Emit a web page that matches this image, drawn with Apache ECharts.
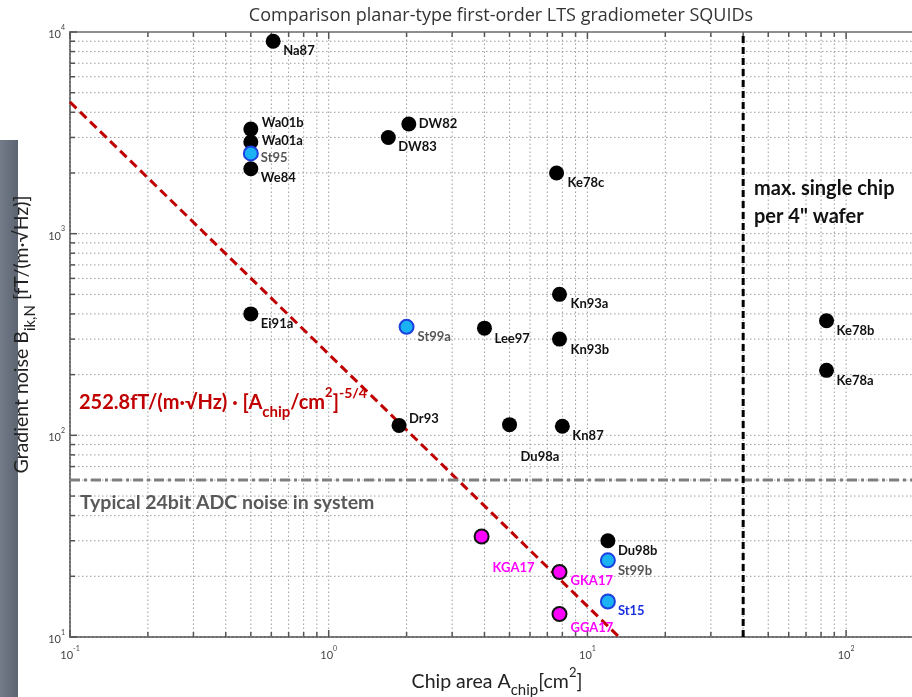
<!DOCTYPE html>
<html>
<head>
<meta charset="utf-8">
<title>LTS gradiometer SQUIDs</title>
<script src="https://cdn.jsdelivr.net/npm/echarts@6/dist/echarts.min.js"></script>
<style>
  html, body { margin: 0; background: #fff; }
  #main { width: 912px; height: 697px; }
</style>
</head>
<body>
<div id="main"></div>
<script>
// axis ranges (log scales)
var xMin = 0.1, xMax = 200;
var yMin = 10, yMax = 10000;
var xDecades = [0.1, 1, 10, 100];
var yDecades = [10, 100, 1000];
var minorSteps = [1, 2, 3, 4, 5, 6, 7, 8, 9];

// black points
var blackNames = ['Na87', 'Wa01b', 'Wa01a', 'We84', 'DW82', 'DW83', 'Ke78c', 'Ei91a', 'Dr93',
                  'Lee97', 'Kn93a', 'Kn93b', 'Du98a', 'Kn87', 'Ke78b', 'Ke78a', 'Du98b'];
var blackX = [0.61, 0.5, 0.5, 0.5, 2.04, 1.7, 7.6, 0.5, 1.87, 4.0, 7.8, 7.8, 5.0, 8.0, 84, 84, 12];
var blackY = [9000, 3300, 2850, 2100, 3500, 3000, 2000, 400, 112, 340, 500, 300, 113, 111, 370, 210, 30];

// light blue points
var blueNames = ['St95', 'St99a', 'St99b', 'St15'];
var blueX = [0.5, 2.0, 12, 12];
var blueY = [2500, 345, 24, 15];

// magenta points
var magNames = ['KGA17', 'GKA17', 'GGA17'];
var magX = [3.9, 7.8, 7.8];
var magY = [31.5, 21, 13];

// fit line  252.8 * A^-5/4  (end points)
var fitLine = [[0.1, 4495], [13.25, 10]];
var adcLevel = 60;      // typical 24bit ADC noise
var waferLimit = 40;    // max. single chip per 4" wafer

// label placement: [dx, dy] from point centre to text left edge / middle
var labelOffset = {
  Na87: [10, 10], Wa01b: [11, -6], Wa01a: [11, -1], St95: [10, 4], We84: [10, 9],
  DW82: [10, 0], DW83: [10, 9], Ke78c: [11, 10], Ei91a: [10, 10], St99a: [11, 10],
  Dr93: [10, -7], Lee97: [10, 11], Kn93a: [11, 9], Kn93b: [11, 11], Du98a: [11, 32],
  Kn87: [10, 10], Ke78b: [10, 10], Ke78a: [10, 10], Du98b: [10, 10], St99b: [10, 10],
  St15: [10, 9], KGA17: [11, 31], GKA17: [11, 9], GGA17: [11, 14]
};
var blueLabelColor = { St95: '#555', St99a: '#555', St99b: '#555', St15: '#1a2fe0' };

var xGrid = [], yGrid = [];
xDecades.forEach(function (d) {
  minorSteps.forEach(function (m) { if (d * m <= xMax) xGrid.push([d * m, yMin]); });
});
xGrid.push([xMax, yMin]);
yDecades.forEach(function (d) {
  minorSteps.forEach(function (m) { yGrid.push([xMin, d * m]); });
});
yGrid.push([xMin, yMax]);

function isDecade(v) {
  var l = Math.log(v) / Math.LN10;
  return Math.abs(l - Math.round(l)) < 1e-6;
}

function powLabel(v) {
  if (!isDecade(v)) return '';
  return '{b|10}{s|' + Math.round(Math.log(v) / Math.LN10) + '}';
}

var fontMain = 'Lato, "Open Sans", sans-serif';

function points(names, xs, ys, color) {
  return names.map(function (n, i) {
    var item = { name: n, value: [xs[i], ys[i]], label: { offset: labelOffset[n] } };
    if (color) item.label.color = color[n];
    return item;
  });
}

var pointLabel = {
  show: true, formatter: '{b}', position: 'inside', align: 'left', verticalAlign: 'middle',
  fontFamily: fontMain, fontWeight: 'bold', fontSize: 13, color: '#111'
};

var myChart = echarts.init(document.getElementById('main'), null, { renderer: 'canvas' });

var option = {
  backgroundColor: '#fff',
  animation: false,
  title: {
    text: 'Comparison planar-type first-order LTS gradiometer SQUIDs',
    left: 496, top: 2, textAlign: 'center',
    textStyle: { fontFamily: '"Open Sans", sans-serif', fontWeight: 'normal', fontSize: 18, color: '#333' }
  },
  grid: {
    left: 70, top: 32, width: 854, height: 605,
    outerBoundsMode: 'none', containLabel: false,
    show: true, borderColor: '#666', borderWidth: 1.5, backgroundColor: 'transparent'
  },
  xAxis: {
    type: 'log', logBase: 10, min: xMin, max: xMax, interval: 1,
    name: '{a|Chip area A}{sub|chip}{a|[cm}{sup|2}{a|]}',
    nameLocation: 'middle', nameGap: 26,
    nameTextStyle: {
      rich: {
        a: { fontFamily: fontMain, fontSize: 19.5, color: '#222', lineHeight: 32 },
        sub: { fontFamily: fontMain, fontSize: 15, color: '#222', verticalAlign: 'bottom', lineHeight: 14 },
        sup: { fontFamily: fontMain, fontSize: 13, color: '#222', verticalAlign: 'top', lineHeight: 12 }
      }
    },
    axisLine: { show: true, lineStyle: { color: '#666', width: 1.5 } },
    axisTick: { show: false },
    splitLine: { show: false },
    axisLabel: {
      formatter: powLabel, margin: 8,
      rich: {
        b: { fontFamily: fontMain, fontSize: 11, color: '#444', lineHeight: 16, verticalAlign: 'bottom' },
        s: { fontFamily: fontMain, fontSize: 7, color: '#444', lineHeight: 10, verticalAlign: 'top' }
      }
    }
  },
  yAxis: {
    type: 'log', logBase: 10, min: yMin, max: yMax, interval: 1,
    name: '{a|Gradient noise B}{sub|ik,N}{a| [fT/(m·√Hz)]}',
    nameLocation: 'middle', nameGap: 27, nameRotate: 90,
    nameTextStyle: {
      rich: {
        a: { fontFamily: fontMain, fontSize: 19.5, color: '#222', lineHeight: 32 },
        sub: { fontFamily: fontMain, fontSize: 15, color: '#222', verticalAlign: 'bottom', lineHeight: 14 }
      }
    },
    axisLine: { show: true, lineStyle: { color: '#666', width: 1.5 } },
    axisTick: { show: false },
    splitLine: { show: false },
    axisLabel: {
      formatter: powLabel, margin: 5,
      rich: {
        b: { fontFamily: fontMain, fontSize: 11, color: '#444', lineHeight: 16, verticalAlign: 'bottom' },
        s: { fontFamily: fontMain, fontSize: 7, color: '#444', lineHeight: 10, verticalAlign: 'top' }
      }
    }
  },
  graphic: [
    {
      type: 'rect', left: 0, top: 140, z: -10,
      shape: { width: 18, height: 557 },
      style: {
        fill: new echarts.graphic.LinearGradient(0, 0, 1, 0, [
          { offset: 0, color: '#747c89' }, { offset: 1, color: '#5d6471' }
        ])
      }
    },
    {
      type: 'text', left: 79, top: 386, z: 10,
      style: {
        text: '{m|252.8fT/(m·√Hz) · [A}{sub|chip}{m|/cm}{sup|2}{m|]}{sup2|-5/4}',
        rich: {
          m: { fontFamily: fontMain, fontSize: 20, fontWeight: 'bold', fill: '#c00000', lineHeight: 34 },
          sub: { fontFamily: fontMain, fontSize: 15, fontWeight: 'bold', fill: '#c00000', verticalAlign: 'bottom', lineHeight: 14 },
          sup: { fontFamily: fontMain, fontSize: 13, fontWeight: 'bold', fill: '#c00000', verticalAlign: 'top', lineHeight: 14 },
          sup2: { fontFamily: fontMain, fontSize: 14, fontWeight: 'bold', fill: '#c00000', verticalAlign: 'top', lineHeight: 12 }
        }
      }
    },
    {
      type: 'text', left: 80, top: 493, z: 10,
      style: { text: 'Typical 24bit ADC noise in system', fontFamily: fontMain, fontSize: 19.5, fontWeight: 'bold', fill: '#595959' }
    },
    {
      type: 'text', left: 754, top: 179, z: 10,
      style: { text: 'max. single chip', fontFamily: fontMain, fontSize: 20, fontWeight: 'bold', fill: '#111' }
    },
    {
      type: 'text', left: 754, top: 207, z: 10,
      style: { text: 'per 4" wafer', fontFamily: fontMain, fontSize: 20, fontWeight: 'bold', fill: '#111' }
    }
  ],
  series: [
    {
      // vertical grid lines + ticks
      type: 'custom', silent: true, z: 1,
      data: xGrid, encode: { x: 0, y: 1 },
      renderItem: function (params, api) {
        var v = api.value(0);
        var b = api.coord([v, yMin]), t = api.coord([v, yMax]);
        var len = isDecade(v) ? 7 : 5;
        return {
          type: 'group', children: [
            { type: 'line', shape: { x1: b[0], y1: b[1], x2: t[0], y2: t[1] }, style: { stroke: '#9c9c9c', lineWidth: 1, lineDash: [1.5, 2.5] } },
            { type: 'line', shape: { x1: b[0], y1: b[1], x2: b[0], y2: b[1] - len }, style: { stroke: '#555', lineWidth: 1.5 } },
            { type: 'line', shape: { x1: t[0], y1: t[1], x2: t[0], y2: t[1] + len }, style: { stroke: '#555', lineWidth: 1.5 } }
          ]
        };
      }
    },
    {
      // horizontal grid lines + ticks
      type: 'custom', silent: true, z: 1,
      data: yGrid, encode: { x: 0, y: 1 },
      renderItem: function (params, api) {
        var v = api.value(1);
        var l = api.coord([xMin, v]), r = api.coord([xMax, v]);
        var len = isDecade(v) ? 7 : 5;
        return {
          type: 'group', children: [
            { type: 'line', shape: { x1: l[0], y1: l[1], x2: r[0], y2: r[1] }, style: { stroke: '#9c9c9c', lineWidth: 1, lineDash: [1.5, 2.5] } },
            { type: 'line', shape: { x1: l[0], y1: l[1], x2: l[0] + len, y2: l[1] }, style: { stroke: '#555', lineWidth: 1.5 } }
          ]
        };
      }
    },
    {
      name: 'fit', type: 'line', silent: true, z: 3, showSymbol: false, symbol: 'none',
      data: fitLine,
      lineStyle: { color: '#c00000', width: 3, type: [9, 5] }
    },
    {
      name: 'ADC', type: 'line', silent: true, z: 3, showSymbol: false, symbol: 'none',
      data: [[xMin, adcLevel], [xMax, adcLevel]],
      lineStyle: { color: '#7f7f7f', width: 3, type: [10, 4, 3, 4] }
    },
    {
      name: 'wafer', type: 'line', silent: true, z: 3, showSymbol: false, symbol: 'none',
      data: [[waferLimit, yMin], [waferLimit, yMax]],
      lineStyle: { color: '#000', width: 3, type: [7, 4] }
    },
    {
      name: 'black', type: 'scatter', z: 5, symbolSize: 15,
      itemStyle: { color: '#000', opacity: 1 },
      label: pointLabel,
      data: points(blackNames, blackX, blackY)
    },
    {
      name: 'blue', type: 'scatter', z: 5, symbolSize: 14,
      itemStyle: { color: '#1ab2f2', borderColor: '#1c3fe0', borderWidth: 2, opacity: 1 },
      label: pointLabel,
      data: points(blueNames, blueX, blueY, blueLabelColor)
    },
    {
      name: 'magenta', type: 'scatter', z: 5, symbolSize: 14,
      itemStyle: { color: '#ff00ff', borderColor: '#111', borderWidth: 2, opacity: 1 },
      label: Object.assign({}, pointLabel, { color: '#ff00ff' }),
      data: points(magNames, magX, magY)
    }
  ]
};

myChart.setOption(option);
</script>
</body>
</html>
